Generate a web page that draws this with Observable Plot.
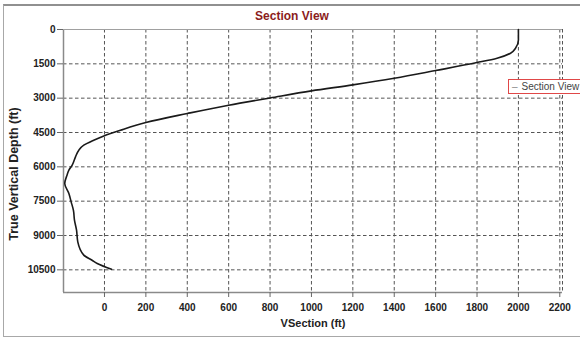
<!DOCTYPE html>
<html><head><meta charset="utf-8">
<script src="https://cdn.jsdelivr.net/npm/d3@7"></script>
<script src="https://cdn.jsdelivr.net/npm/@observablehq/plot@0.6"></script>
<style>
body{margin:0;background:#fff;font-family:"Liberation Sans",Arial,sans-serif;}
#wrap{position:relative;width:580px;height:339px;overflow:hidden;background:#fff;}
#wrap svg{position:absolute;left:0;top:0;}
#frame{position:absolute;left:3px;top:4px;width:600px;height:333px;border:1px solid #a8a8a8;border-top:2px solid #909090;box-sizing:border-box;}
#title{position:absolute;left:0;width:584px;top:9px;text-align:center;font-weight:bold;font-size:12px;color:#8b1c1c;}
#legend{position:absolute;left:508px;top:79px;width:90px;height:15px;border:1px solid #e04848;box-sizing:border-box;font-size:10px;line-height:13px;color:#444;white-space:nowrap;padding-left:3px;background:#fff;}
#legend .dash{color:#888;margin-right:4px;}
#xlabel{position:absolute;left:233px;width:160px;top:317px;text-align:center;font-weight:bold;font-size:11px;color:#222;}
#ylabel{position:absolute;left:-85px;width:200px;top:166px;height:16px;text-align:center;font-weight:bold;font-size:12.5px;color:#222;transform:rotate(-90deg);transform-origin:50% 50%;}
</style>
</head><body>
<div id="wrap">
<div id="frame"></div>
<div id="title">Section View</div>
<div id="xlabel">VSection (ft)</div>
<div id="ylabel">True Vertical Depth (ft)</div>
<div id="legend"><span class="dash">–</span>Section View</div>
</div>
<script>
const vsection = [2000, 2000, 1986, 1962, 1897, 1800, 1600, 1400, 1200, 1000, 800, 600, 400, 200, 77, -3, -52, -100, -124, -140, -156, -172, -181, -192, -172, -161, -150, -145, -135, -129, -100, -60, -35, 34];
const tvd = [0, 454, 817, 1035, 1253, 1445, 1795, 2132, 2420, 2682, 2990, 3306, 3670, 4063, 4400, 4648, 4836, 5055, 5273, 5565, 5928, 6146, 6364, 6727, 7164, 7530, 7900, 8330, 8767, 9277, 9858, 10080, 10221, 10470];
const xTicks = [0, 200, 400, 600, 800, 1000, 1200, 1400, 1600, 1800, 2000, 2200];
const yTicks = [0, 1500, 3000, 4500, 6000, 7500, 9000, 10500];
const xDomain = [-198, 2213];
const yDomain = [0, 11490];

const data = vsection.map((v, i) => ({vs: v, tvd: tvd[i]}));
const gridColor = "#555";
const axisColor = "#8a8a8a";

const chart = Plot.plot({
  width: 580,
  height: 339,
  marginLeft: 63,
  marginRight: 18,
  marginTop: 29,
  marginBottom: 47,
  style: {fontFamily: '"Liberation Sans", Arial, sans-serif', background: "transparent", overflow: "visible"},
  x: {domain: xDomain},
  y: {domain: yDomain, reverse: true},
  marks: [
    Plot.gridX(xTicks, {stroke: gridColor, strokeOpacity: 1, strokeDasharray: "3.5,2.5", strokeWidth: 1}),
    Plot.gridY(yTicks, {stroke: gridColor, strokeOpacity: 1, strokeDasharray: "3.5,2.5", strokeWidth: 1}),
    Plot.ruleX([xDomain[1]], {stroke: gridColor, strokeDasharray: "3.5,2.5"}),
    Plot.ruleX([xDomain[0]], {stroke: axisColor, strokeWidth: 1.5}),
    Plot.ruleY([yDomain[1]], {stroke: axisColor, strokeWidth: 1.5}),
    Plot.ruleY([yDomain[0]], {stroke: "#a0a0a0", strokeWidth: 1.2}),
    Plot.axisX(xTicks, {anchor: "bottom", tickSize: 5, tickPadding: 6, stroke: "#666", fontWeight: "bold", fontSize: 10, fill: "#222", label: null, tickFormat: d => String(d)}),
    Plot.axisY(yTicks, {anchor: "left", tickSize: 6, tickPadding: 2, stroke: "#666", fontWeight: "bold", fontSize: 10, fill: "#222", label: null, tickFormat: d => String(d)}),
    Plot.line(data, {x: "vs", y: "tvd", curve: "monotone-y", stroke: "#1a1a1a", strokeWidth: 1.6})
  ]
});
document.getElementById("wrap").insertBefore(chart, document.getElementById("frame"));
</script>
</body></html>
